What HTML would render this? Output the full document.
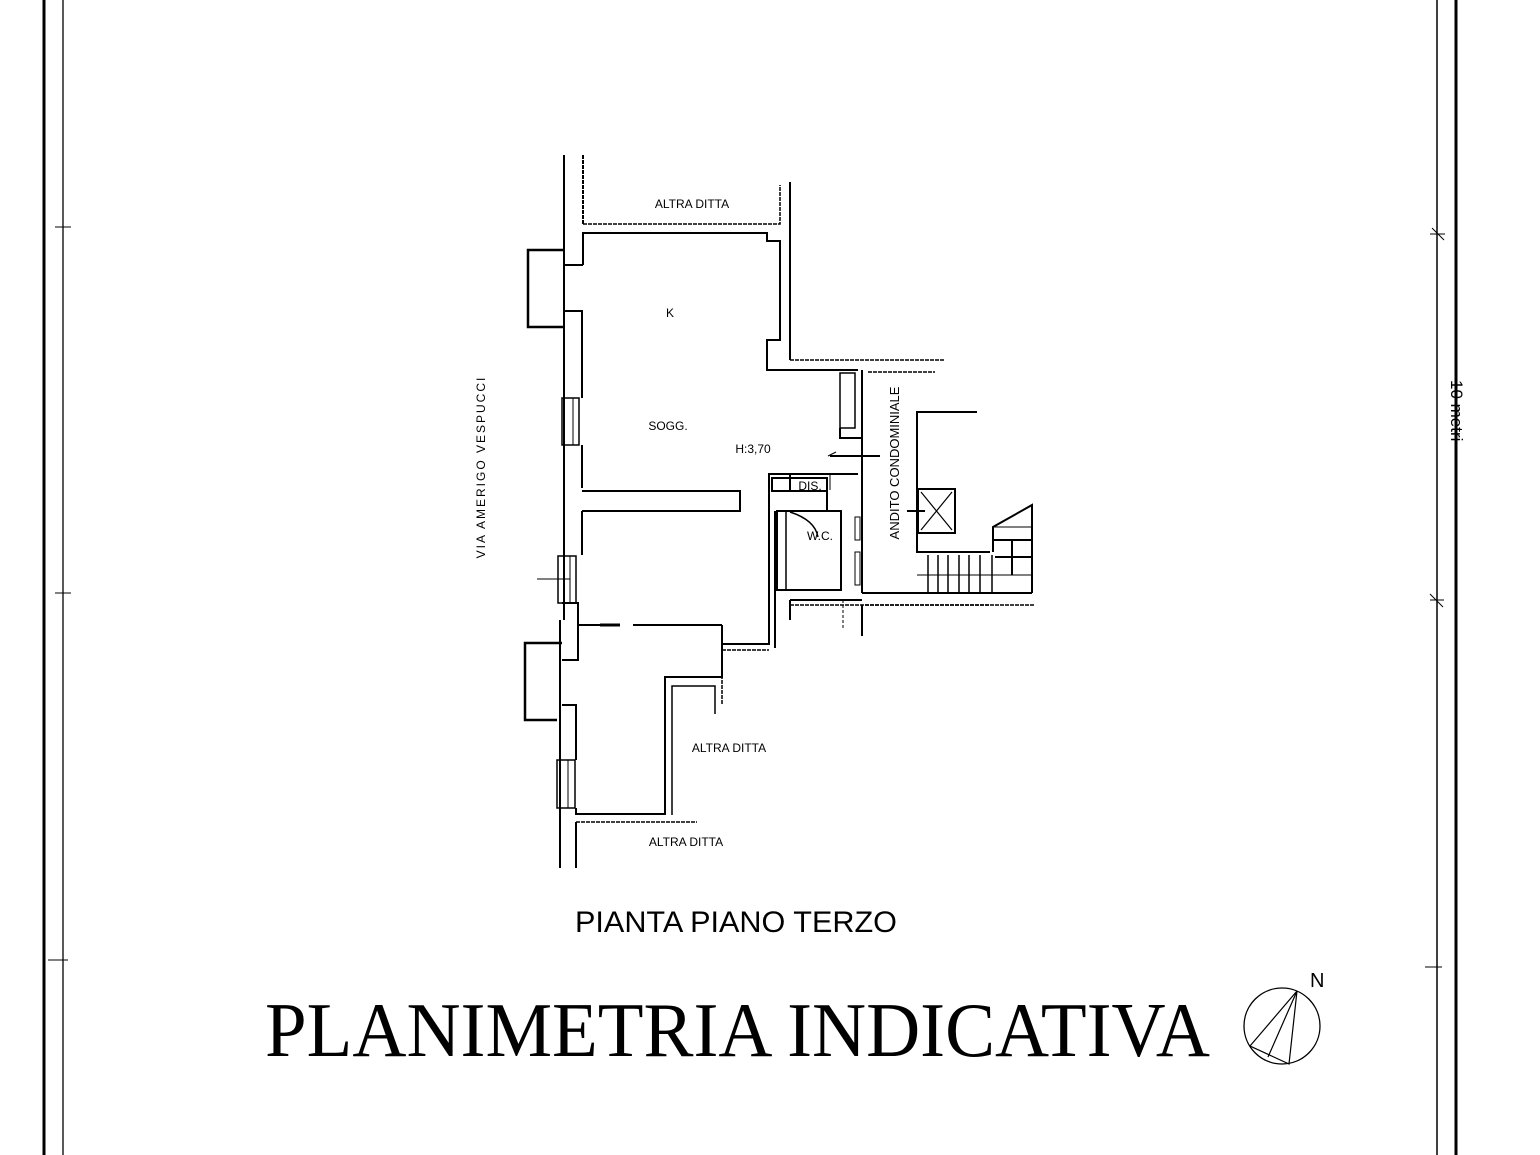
<!DOCTYPE html>
<html><head><meta charset="utf-8"><style>
html,body{margin:0;padding:0;background:#fff}
svg{display:block}
text{font-family:"Liberation Sans",sans-serif;fill:#000}
</style></head><body>
<svg width="1540" height="1155" viewBox="0 0 1540 1155" xmlns="http://www.w3.org/2000/svg">
<g stroke="#000" fill="none">
<line x1="44" y1="0" x2="44" y2="1155" stroke-width="3"/>
<line x1="63" y1="0" x2="63" y2="1155" stroke-width="1.3"/>
<line x1="1437" y1="0" x2="1437" y2="1155" stroke-width="1.5"/>
<line x1="1456" y1="0" x2="1456" y2="1155" stroke-width="3"/>
<line x1="55" y1="227" x2="71" y2="227"/><line x1="55" y1="593" x2="71" y2="593"/><line x1="48" y1="960" x2="68" y2="960"/>
<line x1="1430" y1="234" x2="1445" y2="234"/><line x1="1430" y1="600" x2="1444" y2="600"/><line x1="1425" y1="967" x2="1442" y2="967"/>
<line x1="1432" y1="228" x2="1444" y2="240"/><line x1="1430" y1="594" x2="1443" y2="607"/>

<g stroke-width="2">
<line x1="564" y1="155" x2="564" y2="620"/>
<line x1="560" y1="620" x2="560" y2="868"/>
<line x1="583" y1="155" x2="583" y2="224" stroke-dasharray="4 1"/>
<polyline points="583,224 780,224 780,185" stroke-dasharray="4 1" stroke-width="1.5"/>
<polyline points="583,265 583,233 767,233 767,241 780,241 780,340 767,340 767,370 858,370"/>
<polyline points="790,182 790,360"/>
<polyline points="790,360 945,360" stroke-dasharray="4 1" stroke-width="1.5"/>
<polyline points="868,372 935,372" stroke-dasharray="4 1" stroke-width="1.5"/>
<polyline points="564,250 528,250 528,327 564,327" stroke-width="2.5"/>
<line x1="564" y1="265" x2="583" y2="265"/>
<polyline points="564,311 582,311 582,398"/>
<rect x="562" y="398" width="17" height="47" stroke-width="1.5"/>
<line x1="573" y1="398" x2="573" y2="445" stroke-width="1"/>
<polyline points="582,445 582,488"/>
<polyline points="582,491 740,491 740,511 582,511"/>
<line x1="582" y1="511" x2="582" y2="555"/>
<rect x="558" y="556" width="18" height="47" stroke-width="1.5"/>
<line x1="570" y1="556" x2="570" y2="603" stroke-width="1"/>
<line x1="537" y1="579" x2="570" y2="579" stroke-width="1"/>
<polyline points="562,603 578,603 578,660 562,660"/>
<polyline points="562,643 525,643 525,720 557,720" stroke-width="2.5"/>
<polyline points="562,705 576,705 576,760"/>
<rect x="557" y="760" width="18" height="48" stroke-width="1.5"/>
<line x1="568" y1="760" x2="568" y2="808" stroke-width="1"/>
<polyline points="576,808 576,814 665,814 665,677 722,677 722,644 769,644 769,511"/>
<line x1="578" y1="625" x2="600" y2="625"/>
<line x1="600" y1="625" x2="620" y2="625" stroke-width="3"/>
<line x1="633" y1="625" x2="722" y2="625"/>
<line x1="722" y1="625" x2="722" y2="644"/>
<line x1="775" y1="511" x2="775" y2="648"/>
<polyline points="722,650 769,650" stroke-dasharray="4 1" stroke-width="1.5"/>
<line x1="722" y1="650" x2="722" y2="705" stroke-dasharray="4 1" stroke-width="1.5"/>
<polyline points="715,714 715,686 672,686 672,815" stroke-width="1.5"/>
<polyline points="576,822 697,822" stroke-dasharray="4 1" stroke-width="1.5"/>
<line x1="576" y1="822" x2="576" y2="868"/>
<polyline points="769,511 769,474 858,474"/>
<rect x="772" y="478" width="55" height="13"/>
<polyline points="790,474 790,491 772,491"/>
<polyline points="827,491 827,511 777,511 777,590 841,590 841,511 821,511"/>
<line x1="830" y1="474" x2="830" y2="490" stroke-width="1"/>
<path d="M790 512 Q815 520 818 537" stroke-width="1.5"/>
<line x1="786" y1="511" x2="786" y2="590" stroke-width="1.5"/>
<rect x="855" y="517" width="5" height="23" stroke-width="1"/>
<rect x="855" y="552" width="5" height="33" stroke-width="1"/>
<line x1="862" y1="370" x2="862" y2="593"/>
<rect x="840" y="373" width="15" height="55" stroke-width="1.5"/>
<polyline points="840,428 840,438 862,438"/>
<line x1="830" y1="456" x2="880" y2="456"/>
<line x1="836" y1="452" x2="828" y2="456" stroke-width="1"/>
<line x1="790" y1="600" x2="862" y2="600"/>
<line x1="862" y1="593" x2="1032" y2="593"/>
<polyline points="790,605 990,605" stroke-dasharray="4 1" stroke-width="1.5"/>
<polyline points="865,605 1035,605" stroke-dasharray="4 1" stroke-width="1.5"/>
<line x1="790" y1="600" x2="790" y2="620"/>
<line x1="862" y1="605" x2="862" y2="636"/>
<line x1="843" y1="600" x2="843" y2="630" stroke-dasharray="3 2" stroke-width="1"/>
<polyline points="977,412 917,412 917,552 990,552"/>
<rect x="918" y="489" width="37" height="44"/>
<path d="M921 492 L952 530 M952 492 L921 530" stroke-width="1.2"/>
<line x1="907" y1="511" x2="925" y2="511"/>
<polyline points="993,552 993,527 1032,505 1032,593"/>
<line x1="993" y1="527" x2="1032" y2="527" stroke-width="1"/>
<line x1="993" y1="540" x2="1032" y2="540"/>
<line x1="1012" y1="540" x2="1012" y2="575"/>
<line x1="995" y1="557" x2="1032" y2="557"/>
<line x1="917" y1="575" x2="1032" y2="575" stroke-width="1"/>
<g stroke-width="1.5">
<line x1="928" y1="555" x2="928" y2="593"/><line x1="938" y1="555" x2="938" y2="593"/>
<line x1="948" y1="555" x2="948" y2="593"/><line x1="959" y1="555" x2="959" y2="593"/>
<line x1="969" y1="555" x2="969" y2="593"/><line x1="980" y1="555" x2="980" y2="593"/>
<line x1="992" y1="555" x2="992" y2="593"/>
</g>
</g>
<circle cx="1282" cy="1026" r="38" stroke-width="1.3"/>
<polyline points="1297,991 1250,1046 1289,1064 1297,991 1268,1057" stroke-width="1.2"/>
</g>
<text x="692" y="208" font-size="12" text-anchor="middle">ALTRA DITTA</text>
<text x="670" y="317" font-size="12" text-anchor="middle">K</text>
<text x="668" y="430" font-size="12" text-anchor="middle">SOGG.</text>
<text x="753" y="453" font-size="12" text-anchor="middle">H:3,70</text>
<text x="810" y="490" font-size="12" text-anchor="middle">DIS.</text>
<text x="820" y="540" font-size="12" text-anchor="middle">W.C.</text>
<text x="729" y="752" font-size="12" text-anchor="middle">ALTRA DITTA</text>
<text x="686" y="846" font-size="12" text-anchor="middle">ALTRA DITTA</text>
<text transform="translate(899,463) rotate(-90)" font-size="13" text-anchor="middle">ANDITO CONDOMINIALE</text>
<text transform="translate(485,467) rotate(-90)" font-size="12" text-anchor="middle" letter-spacing="2">VIA AMERIGO VESPUCCI</text>
<text transform="translate(1451,380) rotate(90)" font-size="17" text-anchor="start">10 metri</text>
<text x="575" y="932" font-size="30" textLength="322" lengthAdjust="spacingAndGlyphs">PIANTA PIANO TERZO</text>
<text x="265" y="1056" font-size="77" style="font-family:'Liberation Serif',serif" textLength="945" lengthAdjust="spacingAndGlyphs">PLANIMETRIA INDICATIVA</text>
<text x="1310" y="987" font-size="20">N</text>
</svg>
</body></html>
